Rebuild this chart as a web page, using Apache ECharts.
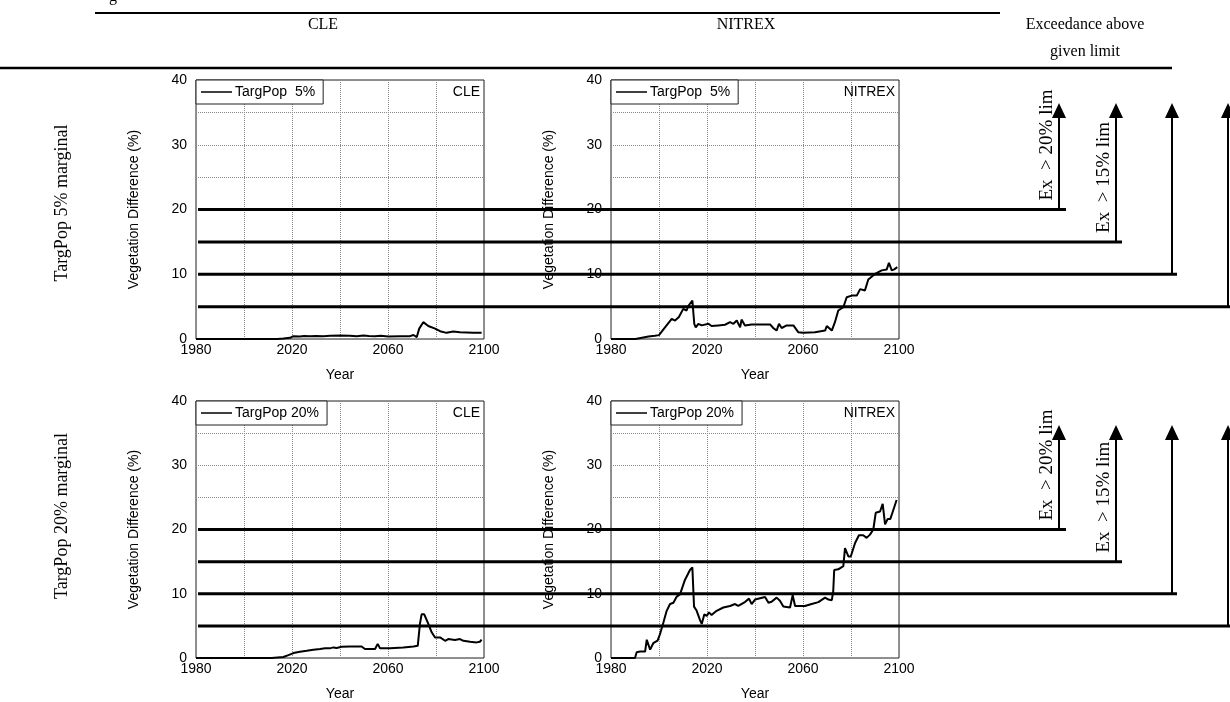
<!DOCTYPE html>
<html>
<head>
<meta charset="utf-8">
<script src="https://cdn.jsdelivr.net/npm/echarts@6/dist/echarts.min.js"></script>
<style>
  html, body { margin: 0; padding: 0; background: #fff; }
  #chart { width: 1230px; height: 702px; }
</style>
</head>
<body>
<div id="chart"></div>
<script>
// values: [year, vegetation difference %]
var cle5 = [[1980,0],[2013.9,0],[2016.4,0.08],[2019.2,0.18],[2020.6,0.44],[2023.3,0.39],[2025,0.46],[2027.5,0.42],
  [2030,0.48],[2033,0.44],[2036,0.5],[2040,0.54],[2044,0.5],[2047,0.42],[2049.7,0.54],[2052,0.48],[2054.6,0.42],
  [2057,0.5],[2060.1,0.39],[2065,0.42],[2069.2,0.44],[2070.6,0.62],[2072,0.3],[2073,1.6],[2074.7,2.6],[2076.8,2.0],
  [2079.6,1.6],[2081.7,1.2],[2084.4,0.95],[2087.2,1.15],[2090,1.05],[2095.6,0.95],[2099,0.95]];

var nitrex5 = [[1980,0],[1990.2,0],[1990.7,0.1],[1995.6,0.4],[1998.3,0.5],[1999,0.75],[2000,0.6],[2002.5,1.8],
  [2005.3,3.1],[2006.7,2.85],[2008.3,3.4],[2010.1,4.65],[2011.5,4.4],[2012.2,5.1],[2013.9,5.95],[2014.7,2.35],
  [2015.3,1.8],[2016.4,2.35],[2017.8,2.1],[2020.6,2.35],[2021.9,2.0],[2024.7,2.1],[2027.5,2.2],[2029.6,2.6],
  [2031,2.35],[2032.4,2.85],[2033.8,1.8],[2034.4,3.0],[2035.8,2.1],[2038.6,2.25],[2041.4,2.25],[2046.3,2.25],
  [2047.6,1.7],[2049,1.3],[2050,2.35],[2051.1,1.7],[2053.2,2.1],[2056,2.1],[2058,1.05],[2060.1,0.95],[2065,1.05],
  [2069.2,1.3],[2069.9,2.0],[2072,1.3],[2073.3,2.6],[2074.7,4.4],[2076.8,4.9],[2078.2,6.45],[2080.3,6.7],
  [2082.4,6.7],[2083.8,7.7],[2085.8,7.5],[2087.2,9.2],[2090,10.05],[2092.8,10.6],[2094.9,10.75],[2095.8,11.75],
  [2097,10.6],[2098,10.75],[2099.3,11.1]];

var cle20 = [[1980,0],[2011.5,0],[2016.4,0.15],[2018.5,0.45],[2020.6,0.77],[2023.3,0.98],[2026.1,1.13],[2028.9,1.29],
  [2031.7,1.4],[2033.8,1.5],[2035.8,1.5],[2037.2,1.65],[2038.6,1.55],[2040.7,1.75],[2044.2,1.8],[2049,1.8],
  [2050.4,1.4],[2054.6,1.4],[2055.7,2.2],[2056.7,1.5],[2060.8,1.5],[2066.4,1.65],[2070.6,1.8],[2072.4,1.9],
  [2073.3,5.3],[2074,6.8],[2075.1,6.8],[2076.8,5.3],[2078.2,4.0],[2079.6,3.2],[2081.7,3.2],[2083.8,2.68],
  [2085.1,2.95],[2087.9,2.8],[2090,2.95],[2091.4,2.68],[2094.2,2.53],[2096.9,2.43],[2098.3,2.53],[2099,2.85]];

var nitrex20 = [[1980,0],[1990,0],[1990.7,0.9],[1992.1,1.0],[1994.2,1.0],[1994.9,2.84],[1996.3,1.3],[1997.6,2.3],
  [1999.4,2.7],[2000.4,3.7],[2001.8,5.5],[2003.2,7.34],[2004.6,8.4],[2006,8.6],[2007.4,9.56],[2008.75,9.9],
  [2010.8,12.15],[2012.9,13.7],[2013.9,14.1],[2014.6,8.0],[2015.7,7.34],[2017.1,5.9],[2017.8,5.3],[2018.9,6.8],
  [2019.9,6.55],[2020.8,7.1],[2021.9,6.7],[2024,7.34],[2026.8,7.86],[2029.6,8.1],[2031.7,8.4],[2033,8.1],
  [2035.8,8.7],[2037.5,9.24],[2038.6,8.4],[2040,9.1],[2044.2,9.5],[2045.6,8.6],[2046.9,8.75],[2049,9.4],
  [2050.4,8.9],[2051.8,8.0],[2054.6,7.85],[2055.7,9.76],[2056.7,8.1],[2060.8,8.1],[2063.6,8.4],[2066.4,8.7],
  [2069.2,9.4],[2070.6,9.1],[2072,9.0],[2072.6,10.4],[2073,13.7],[2074.7,13.8],[2076.8,14.3],[2077.5,17.1],
  [2078.9,15.8],[2079.9,15.8],[2081.7,17.9],[2083.3,19.1],[2085.1,19.1],[2086.5,18.7],[2087.9,19.2],[2089.3,20],
  [2090.3,22.6],[2092.1,22.8],[2093.2,24.0],[2094.2,20.8],[2095.3,21.65],[2096.4,21.65],[2097.6,23.0],[2099,24.6]];

var seriesNames = ['TargPop  5%', 'TargPop  5%', 'TargPop 20%', 'TargPop 20%'];
var scenarioTags = ['CLE', 'NITREX', 'CLE', 'NITREX'];
var columnHeads = ['CLE', 'NITREX'];
var rowHeads = ['TargPop 5% marginal', 'TargPop 20% marginal'];
var limitLevels = [20, 15, 10, 5];
var limitLabels = ['Ex  > 20% lim', 'Ex  > 15% lim'];

var panelData = [cle5, nitrex5, cle20, nitrex20];

var grids = [
  {left: 196, top: 80, width: 288, height: 259},
  {left: 611, top: 80, width: 288, height: 259},
  {left: 196, top: 401, width: 288, height: 258},
  {left: 611, top: 401, width: 288, height: 258}
];

var sans = '"Liberation Sans", Arial, sans-serif';
var serif = '"Liberation Serif", "Times New Roman", serif';

var chart = echarts.init(document.getElementById('chart'));

var xAxes = [], yAxes = [], series = [], legends = [], tags = [];
grids.forEach(function (g, i) {
  g.show = true;
  g.borderColor = '#222';
  g.borderWidth = 1;
  g.backgroundColor = '#fff';
  xAxes.push({
    type: 'value', gridIndex: i, min: 1980, max: 2100, interval: 20,
    name: 'Year', nameLocation: 'middle', nameGap: 29,
    nameTextStyle: {fontFamily: sans, fontSize: 14, color: '#000'},
    axisLine: {show: false}, axisTick: {show: false},
    axisLabel: {
      fontFamily: sans, fontSize: 14, color: '#000', margin: 4,
      formatter: function (v) { return (v - 1980) % 40 === 0 ? String(v) : ''; }
    },
    splitLine: {show: true, lineStyle: {type: 'dotted', color: '#888', width: 1}}
  });
  yAxes.push({
    type: 'value', gridIndex: i, min: 0, max: 40, interval: 5,
    name: 'Vegetation Difference (%)', nameLocation: 'middle', nameGap: 55, nameRotate: 90,
    nameTextStyle: {fontFamily: sans, fontSize: 14, color: '#000'},
    axisLine: {show: false}, axisTick: {show: false},
    axisLabel: {
      fontFamily: sans, fontSize: 14, color: '#000', margin: 9,
      formatter: function (v) { return v % 10 === 0 ? String(v) : ''; }
    },
    splitLine: {show: true, lineStyle: {type: 'dotted', color: '#888', width: 1}}
  });
  series.push({
    name: seriesNames[i], type: 'line', xAxisIndex: i, yAxisIndex: i,
    data: panelData[i], symbol: 'none', animation: false, color: '#000',
    lineStyle: {color: '#000', width: 2}
  });
  legends.push({
    data: [seriesNames[i]], left: g.left, top: g.top, orient: 'horizontal',
    backgroundColor: '#fff', borderColor: '#222', borderWidth: 1, borderRadius: 0,
    padding: [5, 8, 5, 5], icon: 'rect', itemWidth: 31, itemHeight: 1.5, itemGap: 0,
    itemStyle: {color: '#000', borderWidth: 0},
    textStyle: {fontFamily: sans, fontSize: 14, color: '#000', padding: [0, 0, 0, -2]}
  });
  tags.push({
    type: 'text', x: g.left + g.width - 4, y: g.top + 12, z: 50,
    style: {text: scenarioTags[i], font: '14px ' + sans, fill: '#000', textAlign: 'right', textVerticalAlign: 'middle'}
  });
});

var headTexts = [
  {type: 'text', x: 113, y: 5, style: {text: 'g', font: '16px ' + serif, fill: '#000', textAlign: 'center', textVerticalAlign: 'bottom'}},
  {type: 'line', shape: {x1: 95, y1: 13, x2: 1000, y2: 13}, style: {stroke: '#000', lineWidth: 2}},
  {type: 'line', shape: {x1: 0, y1: 68, x2: 1172, y2: 68}, style: {stroke: '#000', lineWidth: 2.5}},
  {type: 'text', x: 323, y: 25, style: {text: columnHeads[0], font: '16px ' + serif, fill: '#000', textAlign: 'center', textVerticalAlign: 'middle'}},
  {type: 'text', x: 746, y: 25, style: {text: columnHeads[1], font: '16px ' + serif, fill: '#000', textAlign: 'center', textVerticalAlign: 'middle'}},
  {type: 'text', x: 1085, y: 25, style: {text: 'Exceedance above', font: '16px ' + serif, fill: '#000', textAlign: 'center', textVerticalAlign: 'middle'}},
  {type: 'text', x: 1085, y: 52, style: {text: 'given limit', font: '16px ' + serif, fill: '#000', textAlign: 'center', textVerticalAlign: 'middle'}},
  {type: 'text', x: 62, y: 203, rotation: Math.PI / 2, style: {text: rowHeads[0], font: '18px ' + serif, fill: '#000', textAlign: 'center', textVerticalAlign: 'middle'}},
  {type: 'text', x: 62, y: 516, rotation: Math.PI / 2, style: {text: rowHeads[1], font: '18px ' + serif, fill: '#000', textAlign: 'center', textVerticalAlign: 'middle'}}
];

chart.setOption({
  animation: false,
  backgroundColor: '#fff',
  grid: grids,
  xAxis: xAxes,
  yAxis: yAxes,
  legend: legends,
  series: series,
  graphic: {elements: headTexts.concat(tags)}
});

// limit lines drawn over both panels of a row, ending in arrows on the right
var arrowX = [1059, 1116, 1172, 1228];
var lineEnd = [1066, 1122, 1177, 1230];
var arrowTop = [103, 425];
var overlay = [];
[0, 2].forEach(function (gi, row) {
  limitLevels.forEach(function (lv, k) {
    var y = chart.convertToPixel({gridIndex: gi}, [1980, lv])[1];
    var ax = arrowX[k], tip = arrowTop[row];
    overlay.push({type: 'line', z: 60, shape: {x1: 198, y1: y, x2: lineEnd[k], y2: y}, style: {stroke: '#000', lineWidth: 3}});
    overlay.push({type: 'line', z: 60, shape: {x1: ax, y1: y, x2: ax, y2: tip + 10}, style: {stroke: '#000', lineWidth: 2}});
    overlay.push({type: 'polygon', z: 60, shape: {points: [[ax - 7, tip + 15], [ax, tip], [ax + 7, tip + 15]]}, style: {fill: '#000'}});
    if (k < limitLabels.length) {
      overlay.push({type: 'text', z: 61, x: ax - 2, y: y - 9, rotation: Math.PI / 2,
        style: {text: limitLabels[k], font: '19px ' + serif, fill: '#000', textAlign: 'left', textVerticalAlign: 'bottom'}});
    }
  });
});

chart.setOption({graphic: {elements: headTexts.concat(tags, overlay)}});
</script>
</body>
</html>
